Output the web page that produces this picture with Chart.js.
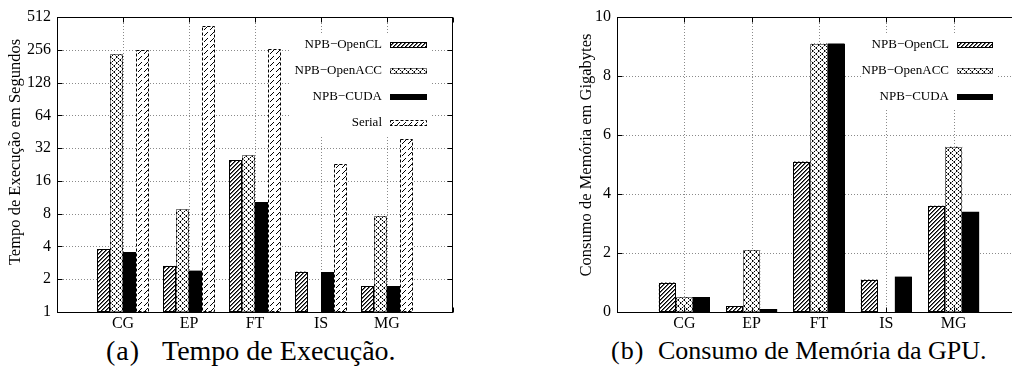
<!DOCTYPE html>
<html><head><meta charset="utf-8">
<script src="https://cdn.jsdelivr.net/npm/chart.js@4.4.0/dist/chart.umd.min.js"></script>
<style>
html,body{margin:0;padding:0;background:#fff;width:1012px;height:379px;overflow:hidden;position:relative;font-family:"Liberation Serif",serif;}
#wa{position:absolute;left:0;top:0;width:470px;height:332px;}
#wb{position:absolute;left:540px;top:0;width:500px;height:332px;}
.cap{position:absolute;top:336px;line-height:30px;white-space:pre;color:#000;}
.pre{position:absolute;left:-999px;top:0;font-family:"Liberation Serif";}
</style></head><body>
<div class="pre">Aa0</div>
<div id="wa"><canvas id="ca"></canvas></div>
<div id="wb"><canvas id="cb"></canvas></div>
<div class="cap" style="left:106px;font-size:28px;letter-spacing:1px">(a)</div>
<div class="cap" style="left:162px;font-size:28px">Tempo de Execução.</div>
<div class="cap" style="left:611px;font-size:26px;letter-spacing:1px">(b)</div>
<div class="cap" style="left:658px;font-size:26px">Consumo de Memória da GPU.</div>
<script>
// ---- data ----
const categories = ['CG','EP','FT','IS','MG'];
const seriesNames = ['NPB\u2212OpenCL','NPB\u2212OpenACC','NPB\u2212CUDA','Serial'];
const timeTicks = [1,2,4,8,16,32,64,128,256,512];
const timeOpenCL  = [3.75, 2.65, 24.8, 2.35, 1.73];
const timeOpenACC = [233, 8.75, 27.4, null, 7.6];
const timeCUDA    = [3.55, 2.4, 10.2, 2.33, 1.73];
const timeSerial  = [254, 421, 258, 22.8, 38.5];
const memTicks = [0,2,4,6,8,10];
const memOpenCL  = [1.0, 0.2, 5.1, 1.1, 3.6];
const memOpenACC = [0.5, 2.1, 9.1, 0, 5.6];
const memCUDA    = [0.5, 0.1, 9.1, 1.2, 3.4];
const yTitleA = 'Tempo de Execução em Segundos';
const yTitleB = 'Consumo de Memória em Gigabytes';

const FONT = '"Liberation Serif", "Times New Roman", serif';

// ---- fill patterns ----
function makePattern(kind){
  const c = document.createElement('canvas');
  const s = kind==='hatch' ? 4 : 6;
  c.width = c.height = s;
  const g = c.getContext('2d');
  g.fillStyle = '#fff'; g.fillRect(0,0,s,s);
  if (kind==='hatch'){
    for (let i=0;i<s;i++){ g.fillStyle='#000'; g.fillRect(i,s-1-i,1,1); g.fillStyle='#666'; g.fillRect(i,(s-i)%s,1,1); }
  } else if (kind==='dots'){
    for (let i=0;i<s;i++){
      g.fillStyle = (i%2===0) ? '#000' : '#999';
      g.fillRect(i,i,1,1); g.fillRect(i,s-1-i,1,1);
    }
  } else if (kind==='dash'){
    g.fillStyle='#000';
    for (let i=0;i<4;i++){ g.fillRect(i,s-1-i,1,1); }
  } else {
    g.fillStyle='#000'; g.fillRect(0,0,s,s);
  }
  return g.createPattern(c,'repeat');
}
const fills = [makePattern('hatch'), makePattern('dots'), makePattern('solid'), makePattern('dash')];
const dashes = [[], [1,1], [], [3,2]];

function toPoints(arr){ return categories.map((c,i)=>({x:i, y:arr[i]})); }

function gnuPlugin(cfg){
  return {
    id:'gnu',
    beforeDatasetsDraw(chart){
      const {ctx, chartArea:a, scales:{x,y}} = chart;
      ctx.save();
      ctx.strokeStyle='#8a8a8a'; ctx.lineWidth=1; ctx.setLineDash([1,2]);
      x.ticks.forEach(t=>{
        const px = Math.round(x.getPixelForValue(t.value))+0.5;
        if (px<=a.left+1 || px>=a.right-1) return;
        ctx.beginPath(); ctx.moveTo(px,a.top); ctx.lineTo(px,a.bottom); ctx.stroke();
      });
      y.ticks.forEach(t=>{
        const py = Math.round(y.getPixelForValue(t.value))+0.5;
        if (py<=a.top+1 || py>=a.bottom-1) return;
        ctx.beginPath(); ctx.moveTo(a.left,py); ctx.lineTo(a.right,py); ctx.stroke();
      });
      ctx.restore();
    },
    afterDatasetsDraw(chart){
      const {ctx, chartArea:a, scales:{x,y}} = chart;
      ctx.save();
      ctx.strokeStyle='#000'; ctx.lineWidth=1;
      chart.data.datasets.forEach((ds,i)=>{
        const meta = chart.getDatasetMeta(i);
        ctx.setLineDash(dashes[i]);
        meta.data.forEach(el=>{
          const p = el.getProps(['x','y','base','width'], true);
          if (!isFinite(p.y) || Math.abs(p.base-p.y)<1) return;
          const l = Math.round(p.x-p.width/2)+0.5, r = Math.round(p.x+p.width/2)-0.5;
          const t = Math.round(p.y)+0.5, b = Math.round(p.base)-0.5;
          ctx.strokeRect(l,t,r-l,b-t);
        });
      });
      ctx.setLineDash([]);
      const L=Math.round(a.left)+0.5, R=Math.round(a.right)-0.5, T=Math.round(a.top)+0.5, B=Math.round(a.bottom)+0.5;
      ctx.strokeRect(L,T,R-L,B-T);
      const tl=5;
      ctx.beginPath();
      x.ticks.forEach(t=>{
        const px=Math.round(x.getPixelForValue(t.value))+0.5;
        ctx.moveTo(px,B); ctx.lineTo(px,B-tl); ctx.moveTo(px,T); ctx.lineTo(px,T+tl);
      });
      y.ticks.forEach(t=>{
        const py=Math.round(y.getPixelForValue(t.value))+0.5;
        ctx.moveTo(L,py); ctx.lineTo(L+tl,py); ctx.moveTo(R,py); ctx.lineTo(R-tl,py);
      });
      ctx.stroke();
      ctx.restore();
    },
    afterDraw(chart){
      const {ctx} = chart; const c = cfg;
      ctx.save();
      ctx.fillStyle='#000';
      ctx.font = '16.5px ' + FONT;
      ctx.textAlign='center'; ctx.textBaseline='middle';
      ctx.translate(c.titleX, c.titleY); ctx.rotate(-Math.PI/2);
      ctx.fillText(c.title, 0, 0);
      ctx.setTransform(1,0,0,1,0,0);
      ctx.fillStyle='#fff';
      ctx.fillRect(c.box[0],c.box[1],c.box[2]-c.box[0],c.box[3]-c.box[1]);
      ctx.font = '13px ' + FONT;
      ctx.textAlign='right'; ctx.textBaseline='middle';
      c.rows.forEach((ry,i)=>{
        ctx.fillStyle='#000';
        ctx.fillText(chart.data.datasets[i].label, c.textRight, ry);
        ctx.fillStyle=fills[i];
        ctx.fillRect(c.sx, Math.round(ry-3), c.sw, 6);
        ctx.strokeStyle='#000'; ctx.lineWidth=1; ctx.setLineDash(dashes[i]);
        ctx.strokeRect(c.sx+0.5, Math.round(ry-3)+0.5, c.sw-1, 5);
        ctx.setLineDash([]);
      });
      ctx.restore();
    }
  };
}

function makeChart(id, series, yOpts, geom, cfg){
  const datasets = series.map((arr,i)=>({
    label: seriesNames[i], data: toPoints(arr),
    backgroundColor: fills[i], borderWidth:0,
    categoryPercentage: geom.cat, barPercentage: 1
  }));
  return new Chart(document.getElementById(id), {
    type:'bar',
    data:{datasets},
    options:{
      responsive:true, maintainAspectRatio:false, animation:false,
      layout:{padding:{top:17, right:geom.right, left:0, bottom:0}},
      plugins:{legend:{display:false}, tooltip:{enabled:false}},
      scales:{
        x:{type:'linear', min:-1, max:5, offset:false,
           grid:{display:false, offset:false, drawTicks:false}, border:{display:false},
           ticks:{stepSize:1, autoSkip:false, maxRotation:0, padding:2, color:'#000',
                  font:{family:FONT, size:16}, callback:v=>(categories[v] ?? '')},
           afterFit:s=>{ s.height = 20; }},
        y:Object.assign({
           grid:{display:false, drawTicks:false}, border:{display:false},
           afterFit:s=>{ s.width = geom.yw; }}, yOpts)
      }
    },
    plugins:[gnuPlugin(cfg)]
  });
}

function build(){
  Chart.defaults.font.family = FONT;
  makeChart('ca', [timeOpenCL, timeOpenACC, timeCUDA, timeSerial], {
    type:'logarithmic', min:1, max:512,
    afterBuildTicks:s=>{ s.ticks = timeTicks.map(v=>({value:v})); },
    ticks:{autoSkip:false, padding:6, color:'#000', font:{family:FONT, size:16}, callback:v=>String(v)}
  }, {right:17, yw:57, cat:52/66},
  {title:yTitleA, titleX:16, titleY:152, box:[290,33,432,136], textRight:382, sx:390, sw:37, rows:[45,71,97,123]});

  makeChart('cb', [memOpenCL, memOpenACC, memCUDA], {
    type:'linear', min:0, max:10,
    afterBuildTicks:s=>{ s.ticks = memTicks.map(v=>({value:v})); },
    ticks:{autoSkip:false, padding:6, color:'#000', font:{family:FONT, size:16}, callback:v=>String(v)}
  }, {right:19, yw:77, cat:51/67.3},
  {title:yTitleB, titleX:47, titleY:155, box:[322,33,457,108], textRight:409, sx:417, sw:36, rows:[45,71,97]});
}

Promise.all([
  document.fonts.load('16px "Liberation Serif"'),
  document.fonts.load('13px "Liberation Serif"')
]).then(build, build);
</script>
</body></html>
